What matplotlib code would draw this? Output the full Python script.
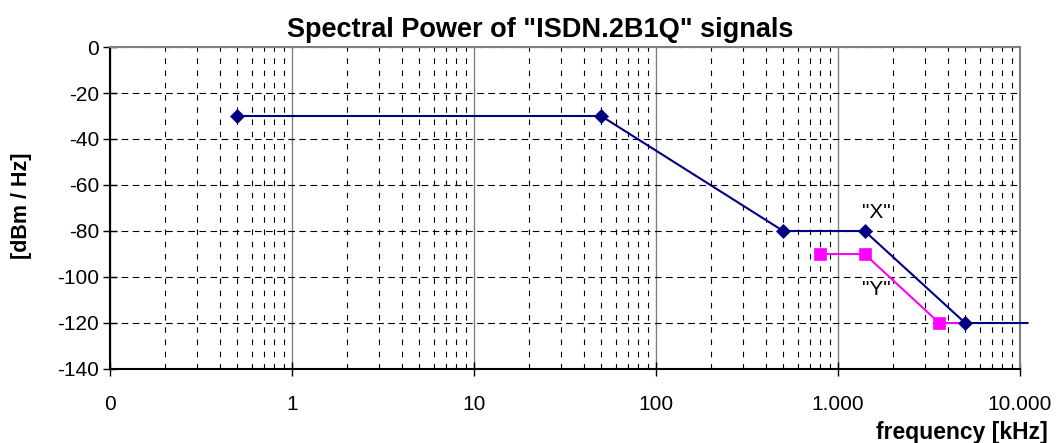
import matplotlib
matplotlib.use("Agg")
import matplotlib.pyplot as plt
from matplotlib.ticker import LogLocator, FixedLocator, NullFormatter

# ---- data --------------------------------------------------------------------
freq_x = [0.5, 50, 500, 1400, 5000, 11000]      # kHz, "X" curve
level_x = [-30, -30, -80, -80, -120, -120]       # dBm/Hz
freq_y = [800, 1400, 3600, 5000]                 # kHz, "Y" curve
level_y = [-90, -90, -120, -120]
xticks = [0.1, 1, 10, 100, 1000, 10000]
xtick_labels = ["0", "1", "10", "100", "1.000", "10.000"]
yticks = [0, -20, -40, -60, -80, -100, -120, -140]

NAVY, MAGENTA, GRAYLINE = "#000080", "#ff00ff", "#808080"
plt.rcParams["font.family"] = ["Liberation Sans", "DejaVu Sans"]

fig = plt.figure(figsize=(10.56, 4.43), dpi=100)
ax = fig.add_axes([110 / 1056, 1 - 369 / 443, 910 / 1056, 322 / 443])

ax.set_xscale("log")
ax.set_xlim(0.1, 10000)
ax.set_ylim(-140, 0)

# grid: solid gray decades, dashed black minors and horizontals
ax.xaxis.set_major_locator(FixedLocator(xticks))
ax.xaxis.set_minor_locator(LogLocator(base=10, subs=range(2, 10), numticks=20))
ax.xaxis.set_minor_formatter(NullFormatter())
ax.set_xticks(xticks)
ax.set_xticklabels(xtick_labels)
ax.set_yticks(yticks)
ax.set_yticklabels([str(v) for v in yticks])

ax.grid(True, which="major", axis="x", color=GRAYLINE, lw=1.0, ls="-")
ax.grid(True, which="minor", axis="x", color="black", lw=0.8, ls=(0, (5, 6)))
ax.grid(True, which="major", axis="y", color="black", lw=0.8, ls=(0, (6, 4)))
ax.set_axisbelow(True)

ax.tick_params(axis="both", which="major", direction="inout", length=10, width=1,
               colors="black", labelsize=15)
ax.tick_params(axis="x", which="major", pad=14)
ax.tick_params(axis="y", which="major", pad=3)
ax.tick_params(axis="x", which="minor", length=0)

for s in ("left", "bottom"):
    ax.spines[s].set_color("black")
    ax.spines[s].set_linewidth(1.5)
for s in ("top", "right"):
    ax.spines[s].set_color(GRAYLINE)
    ax.spines[s].set_linewidth(1.5)

# curves
ax.plot(freq_y, level_y, color=MAGENTA, lw=1.5, marker="s", ms=9, mew=0.5,
        mfc=MAGENTA, mec=MAGENTA, markevery=[0, 1, 2], zorder=3, clip_on=False)
ax.plot(freq_x, level_x, color=NAVY, lw=1.5, marker="D", ms=6.8, mew=0.5,
        mfc=NAVY, mec=NAVY, markevery=[0, 1, 2, 3, 4], zorder=4, clip_on=False)

ax.text(1620, -72, '"X"', ha="center", va="center", fontsize=15, color="black")
ax.text(1620, -105.5, '"Y"', ha="center", va="center", fontsize=15, color="black")

fig.text(540 / 1056, 1 - 30 / 443, 'Spectral Power of "ISDN.2B1Q" signals',
         ha="center", va="center", fontsize=19.5, fontweight="bold")
fig.text(22 / 1056, 1 - 206 / 443, "[dBm / Hz]", rotation=90, ha="center", va="center",
         fontsize=15.5, fontweight="bold")
fig.text(1048 / 1056, 1 - 432 / 443, "frequency [kHz]", ha="right", va="center",
         fontsize=16.5, fontweight="bold")

fig.savefig("out.png", dpi=100, facecolor="white")
